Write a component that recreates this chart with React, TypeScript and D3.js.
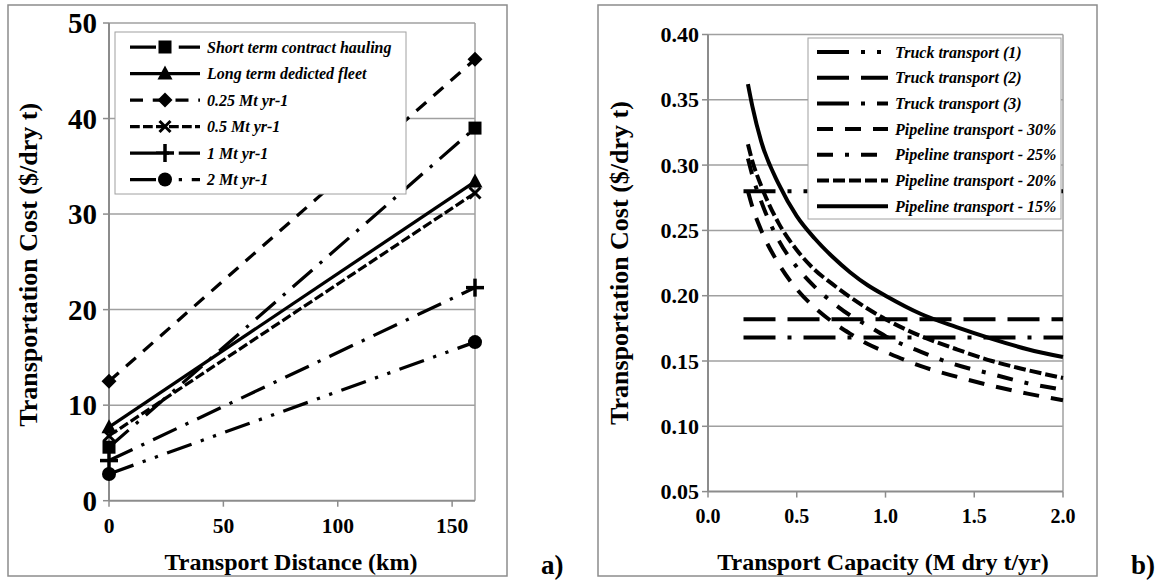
import React from "react";
import * as d3 from "d3";

// ---------- Chart a) data ----------
const distanceKm = [0, 160];
const shortTermHauling = [5.6, 39.0];
const longTermFleet = [7.7, 33.4];
const mt025 = [12.5, 46.2];
const mt05 = [6.8, 32.2];
const mt1 = [4.2, 22.3];
const mt2 = [2.8, 16.6];
const leftYTicks = [0, 10, 20, 30, 40, 50];
const leftXTicks = [0, 50, 100, 150];
const leftLabels = [
  "Short term contract hauling",
  "Long term dedicted fleet",
  "0.25 Mt yr-1",
  "0.5 Mt yr-1",
  "1 Mt yr-1",
  "2 Mt yr-1",
];

// ---------- Chart b) data ----------
const truckCapacity = [0.2, 2.0];
const truck1 = [0.28, 0.28];
const truck2 = [0.182, 0.182];
const truck3 = [0.168, 0.168];
const pipeCapacity = [0.225, 0.25, 0.3, 0.4, 0.5, 0.6, 0.7, 0.8, 0.9, 1.0, 1.2, 1.4, 1.6, 1.8, 2.0];
const pipe30 = [0.28, 0.268, 0.25, 0.224, 0.205, 0.191, 0.18, 0.171, 0.163, 0.157, 0.146, 0.138, 0.131, 0.125, 0.12];
const pipe25 = [0.305, 0.292, 0.272, 0.242, 0.222, 0.207, 0.195, 0.185, 0.177, 0.169, 0.157, 0.147, 0.14, 0.133, 0.128];
const pipe20 = [0.316, 0.303, 0.284, 0.255, 0.235, 0.22, 0.209, 0.199, 0.19, 0.182, 0.169, 0.159, 0.15, 0.143, 0.137];
const pipe15 = [0.362, 0.345, 0.318, 0.285, 0.261, 0.244, 0.23, 0.218, 0.208, 0.2, 0.186, 0.176, 0.167, 0.159, 0.153];
const rightYTicks = [0.05, 0.1, 0.15, 0.2, 0.25, 0.3, 0.35, 0.4];
const rightXTicks = [0, 0.5, 1.0, 1.5, 2.0];
const rightLabels = [
  "Truck transport (1)",
  "Truck transport (2)",
  "Truck transport (3)",
  "Pipeline transport - 30%",
  "Pipeline transport - 25%",
  "Pipeline transport - 20%",
  "Pipeline transport - 15%",
];

const FONT = "'Liberation Serif', 'Times New Roman', serif";
const GRID = "#a0a0a0";
const AXIS = "#8c8c8c";

function dashes(kind: string, w: number): string | undefined {
  switch (kind) {
    case "solid": return undefined;
    case "dash": return `${4 * w} ${3 * w}`;
    case "sysDash": return `${3 * w} ${1 * w}`;
    case "dashDot": return `${4 * w} ${3 * w} ${w} ${3 * w}`;
    case "longDash": return `${8 * w} ${3 * w}`;
    case "longDashDot": return `${8 * w} ${3 * w} ${w} ${3 * w}`;
    case "longDashDotDot": return `${8 * w} ${3 * w} ${w} ${3 * w} ${w} ${3 * w}`;
  }
  return undefined;
}

function Marker({ type, x, y }: { type: string; x: number; y: number }) {
  switch (type) {
    case "square":
      return <rect x={x - 6.5} y={y - 6.5} width={13} height={13} fill="#000" />;
    case "triangle":
      return <path d={`M${x},${y - 8} L${x + 7.5},${y + 6} L${x - 7.5},${y + 6} Z`} fill="#000" />;
    case "diamond":
      return <path d={`M${x},${y - 7.5} L${x + 7.5},${y} L${x},${y + 7.5} L${x - 7.5},${y} Z`} fill="#000" />;
    case "x":
      return (
        <g stroke="#000" strokeWidth={3}>
          <line x1={x - 5.5} y1={y - 5.5} x2={x + 5.5} y2={y + 5.5} />
          <line x1={x - 5.5} y1={y + 5.5} x2={x + 5.5} y2={y - 5.5} />
        </g>
      );
    case "plus":
      return (
        <g stroke="#000" strokeWidth={3.5}>
          <line x1={x - 9} y1={y} x2={x + 9} y2={y} />
          <line x1={x} y1={y - 9} x2={x} y2={y + 9} />
        </g>
      );
    case "circle":
      return <circle cx={x} cy={y} r={7} fill="#000" />;
  }
  return null;
}

export default function App() {
  // ----- scales -----
  const xL = d3.scaleLinear().domain([0, 160]).range([109, 475]);
  const yL = d3.scaleLinear().domain([0, 50]).range([500.7, 23]);
  const xR = d3.scaleLinear().domain([0, 2]).range([708, 1063]);
  const yR = d3.scaleLinear().domain([0.05, 0.4]).range([491.6, 34.5]);

  const wL = 3.25;
  const wR = 4;

  const leftSeries = [
    { vals: shortTermHauling, dash: "longDashDot", marker: "square" },
    { vals: longTermFleet, dash: "solid", marker: "triangle" },
    { vals: mt025, dash: "dash", marker: "diamond" },
    { vals: mt05, dash: "sysDash", marker: "x" },
    { vals: mt1, dash: "longDashDot", marker: "plus" },
    { vals: mt2, dash: "longDashDotDot", marker: "circle" },
  ];

  const rightSeries = [
    { xs: truckCapacity, vals: truck1, dash: "longDashDotDot" },
    { xs: truckCapacity, vals: truck2, dash: "longDash" },
    { xs: truckCapacity, vals: truck3, dash: "longDashDot" },
    { xs: pipeCapacity, vals: pipe30, dash: "dash" },
    { xs: pipeCapacity, vals: pipe25, dash: "dashDot" },
    { xs: pipeCapacity, vals: pipe20, dash: "sysDash" },
    { xs: pipeCapacity, vals: pipe15, dash: "solid" },
  ];

  const lineL = d3.line<[number, number]>().x((d) => xL(d[0])).y((d) => yL(d[1]));
  const lineR = d3
    .line<[number, number]>()
    .x((d) => xR(d[0]))
    .y((d) => yR(d[1]))
    .curve(d3.curveMonotoneX);

  const [lx0, lx1] = xL.range();
  const [ry0, ry1] = yR.range();
  const [rx0, rx1] = xR.range();

  // legends
  const legL = { x: 115, y: 32, w: 291, h: 162, rowY0: 47, rowDy: 26.5, s0: 130, s1: 200, tx: 207 };
  const legR = { x: 808, y: 38, w: 253, h: 181, rowY0: 52, rowDy: 25.7, s0: 817, s1: 888, tx: 895 };

  return (
    <svg width={1166} height={582} style={{ position: "absolute", left: 0, top: 0, background: "#fff" }} fontFamily={FONT}>
      <rect x={0} y={0} width={1166} height={582} fill="#fff" />
      {/* frames */}
      <rect x={8} y={5} width={499} height={571} fill="none" stroke={AXIS} strokeWidth={1.5} />
      <rect x={598} y={5} width={499} height={571} fill="none" stroke={AXIS} strokeWidth={1.5} />

      {/* ===== Chart a ===== */}
      <g>
        {leftYTicks.map((t) => (
          <g key={"lg" + t}>
            {t > 0 && <line x1={lx0} x2={lx1} y1={yL(t)} y2={yL(t)} stroke={GRID} strokeWidth={1.5} />}
            <line x1={lx0 - 6} x2={lx0} y1={yL(t)} y2={yL(t)} stroke={AXIS} strokeWidth={1.5} />
            <text x={97} y={yL(t)} textAnchor="end" dominantBaseline="central" fontSize={29} fontWeight="bold">
              {t}
            </text>
          </g>
        ))}
        <line x1={lx1} x2={lx1} y1={yL(50)} y2={yL(0)} stroke={GRID} strokeWidth={1.5} />
        <line x1={lx0} x2={lx0} y1={yL(50)} y2={yL(0)} stroke={AXIS} strokeWidth={2} />
        <line x1={lx0} x2={lx1} y1={yL(0)} y2={yL(0)} stroke={AXIS} strokeWidth={2} />
        {leftXTicks.map((t) => (
          <g key={"lx" + t}>
            <line x1={xL(t)} x2={xL(t)} y1={yL(0)} y2={yL(0) + 6} stroke={AXIS} strokeWidth={1.5} />
            <text x={xL(t)} y={533} textAnchor="middle" fontSize={21.5} fontWeight="bold">
              {t}
            </text>
          </g>
        ))}
        {leftSeries.map((s, i) => (
          <path
            key={"ls" + i}
            d={lineL(distanceKm.map((d, j) => [d, s.vals[j]] as [number, number])) || ""}
            fill="none"
            stroke="#000"
            strokeWidth={wL}
            strokeDasharray={dashes(s.dash, wL)}
          />
        ))}
        {leftSeries.map((s, i) =>
          distanceKm.map((d, j) => <Marker key={"lm" + i + "-" + j} type={s.marker} x={xL(d)} y={yL(s.vals[j])} />)
        )}
        {/* legend */}
        <rect x={legL.x} y={legL.y} width={legL.w} height={legL.h} fill="#fff" stroke={GRID} strokeWidth={1} />
        {leftSeries.map((s, i) => {
          const y = legL.rowY0 + i * legL.rowDy;
          return (
            <g key={"ll" + i}>
              <line x1={legL.s0} x2={legL.s1} y1={y} y2={y} stroke="#000" strokeWidth={wL} strokeDasharray={dashes(s.dash, wL)} />
              <Marker type={s.marker} x={(legL.s0 + legL.s1) / 2} y={y} />
              <text x={legL.tx} y={y} dominantBaseline="central" fontSize={16} fontWeight="bold" fontStyle="italic">
                {leftLabels[i]}
              </text>
            </g>
          );
        })}
        <text
          transform={`translate(28, ${(yL(0) + yL(50)) / 2 + 3}) rotate(-90)`}
          textAnchor="middle"
          dominantBaseline="central"
          fontSize={26}
          fontWeight="bold"
        >
          Transportation Cost ($/dry t)
        </text>
        <text x={291} y={570} textAnchor="middle" fontSize={24} fontWeight="bold">
          Transport Distance (km)
        </text>
        <text x={541} y={574} fontSize={27} fontWeight="bold">
          a)
        </text>
      </g>

      {/* ===== Chart b ===== */}
      <g>
        {rightYTicks.map((t) => (
          <g key={"rg" + t}>
            {t > 0.051 && <line x1={rx0} x2={rx1} y1={yR(t)} y2={yR(t)} stroke={GRID} strokeWidth={1.5} />}
            <line x1={rx0 - 6} x2={rx0} y1={yR(t)} y2={yR(t)} stroke={AXIS} strokeWidth={1.5} />
            <text x={699} y={yR(t)} textAnchor="end" dominantBaseline="central" fontSize={22} fontWeight="bold">
              {t.toFixed(2)}
            </text>
          </g>
        ))}
        <line x1={rx1} x2={rx1} y1={ry1} y2={ry0} stroke={GRID} strokeWidth={1.5} />
        <line x1={rx0} x2={rx0} y1={ry1} y2={ry0} stroke={AXIS} strokeWidth={2} />
        <line x1={rx0} x2={rx1} y1={ry0} y2={ry0} stroke={AXIS} strokeWidth={2} />
        {rightXTicks.map((t) => (
          <g key={"rx" + t}>
            <line x1={xR(t)} x2={xR(t)} y1={ry0} y2={ry0 + 6} stroke={AXIS} strokeWidth={1.5} />
            <text x={xR(t)} y={523} textAnchor="middle" fontSize={20} fontWeight="bold">
              {t.toFixed(1)}
            </text>
          </g>
        ))}
        {rightSeries.map((s, i) => (
          <path
            key={"rs" + i}
            d={lineR(s.xs.map((d, j) => [d, s.vals[j]] as [number, number])) || ""}
            fill="none"
            stroke="#000"
            strokeWidth={wR}
            strokeDasharray={dashes(s.dash, wR)}
          />
        ))}
        <rect x={legR.x} y={legR.y} width={legR.w} height={legR.h} fill="#fff" stroke={GRID} strokeWidth={1} />
        {rightSeries.map((s, i) => {
          const y = legR.rowY0 + i * legR.rowDy;
          return (
            <g key={"rl" + i}>
              <line x1={legR.s0} x2={legR.s1} y1={y} y2={y} stroke="#000" strokeWidth={wR} strokeDasharray={dashes(s.dash, wR)} />
              <text x={legR.tx} y={y} dominantBaseline="central" fontSize={16} fontWeight="bold" fontStyle="italic">
                {rightLabels[i]}
              </text>
            </g>
          );
        })}
        <text
          transform={`translate(619, ${(ry0 + ry1) / 2}) rotate(-90)`}
          textAnchor="middle"
          dominantBaseline="central"
          fontSize={26}
          fontWeight="bold"
        >
          Transportation Cost ($/dry t)
        </text>
        <text x={883} y={570} textAnchor="middle" fontSize={24} fontWeight="bold">
          Transport Capacity (M dry t/yr)
        </text>
        <text x={1131} y={574} fontSize={27} fontWeight="bold">
          b)
        </text>
      </g>
    </svg>
  );
}
